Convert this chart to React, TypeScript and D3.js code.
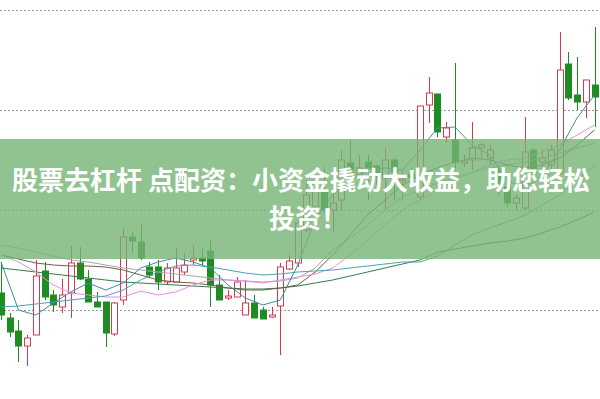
import React, { useEffect, useRef } from "react";
import * as d3 from "d3";

const W = 600;
const H = 399;

// Candles (price units)
const opens = [1.17,0.92,0.79,0.64,0.75,1.39,1.15,1.03,1.17,1.47,1.31,1.08,1.08,0.76,1.10,1.73,1.68,1.43,1.43,1.28,1.28,1.38,1.50,1.52,1.59,1.25,1.12,1.13,0.95,1.07,1.00,0.93,1.04,1.41,1.47,1.80,2.03,2.20,2.00,2.10,2.47,2.35,2.48,2.44,2.32,2.50,2.29,2.36,2.13,3.05,3.16,2.73,2.70,2.47,2.50,2.62,2.52,2.40,2.23,2.07,2.02,2.60,2.48,2.45,2.37,3.46,3.15,3.08,3.25];
const closes = [0.95,0.78,0.64,0.72,1.34,1.13,1.05,1.15,1.47,1.31,1.08,1.03,0.77,1.07,1.73,1.69,1.52,1.35,1.28,1.42,1.42,1.45,1.52,1.49,1.25,1.10,1.14,1.28,1.07,0.92,0.91,0.95,1.43,1.49,1.87,2.15,2.27,2.00,2.07,2.50,2.37,2.42,2.42,2.34,2.50,2.38,2.31,2.32,3.04,3.17,2.78,2.82,2.48,2.49,2.62,2.65,2.60,2.22,2.07,2.12,2.58,2.37,2.52,2.60,3.40,3.12,3.08,3.30,3.13];
const highs = [1.48,0.97,0.90,0.75,1.50,1.48,1.20,1.31,1.64,1.63,1.40,1.18,1.08,1.08,1.82,1.78,1.85,1.48,1.50,1.47,1.62,1.57,1.65,1.63,1.70,1.35,1.20,1.33,1.30,1.15,1.03,1.03,1.47,1.55,1.90,2.30,2.32,2.43,2.17,2.60,2.70,2.55,2.55,2.45,2.62,2.52,2.40,2.42,3.04,3.33,3.16,2.88,3.47,2.55,2.88,2.67,2.65,2.45,2.30,2.15,2.93,2.62,2.60,2.65,3.78,3.58,3.53,3.30,3.83];
const lows = [0.90,0.73,0.48,0.44,0.75,1.10,0.98,0.97,0.92,1.30,1.08,1.03,0.63,0.74,1.05,1.57,1.50,1.32,1.20,1.25,1.28,1.35,1.45,1.45,1.03,1.10,1.10,1.13,0.95,0.92,0.91,0.92,0.55,1.40,1.43,1.78,1.98,1.97,1.77,2.00,2.35,2.30,2.10,2.25,2.00,2.10,2.10,2.25,2.10,2.87,2.73,2.67,2.40,2.43,2.40,2.50,2.45,2.15,2.03,2.00,2.00,2.35,2.40,2.40,2.35,3.10,3.00,2.92,2.83];

// Moving-average lines sampled at these candle indices
const maIdx = [0,2,4,6,8,10,12,14,16,18,20,22,24,26,28,30,32,34,36,38,40,42,44,46,48,50,52,54,56,58,60,62,64,66,68];
const maFast = [1.48,1.00,0.95,1.07,1.18,1.27,1.20,1.27,1.42,1.48,1.52,1.48,1.42,1.25,1.12,1.05,1.10,1.45,1.90,2.15,2.30,2.40,2.42,2.40,2.60,2.82,2.83,2.65,2.55,2.30,2.20,2.35,2.60,2.92,3.15];
const maTeal = [1.03,1.04,1.06,1.08,1.10,1.12,1.14,1.20,1.30,1.38,1.44,1.45,1.43,1.40,1.37,1.35,1.36,1.38,1.39,1.40,1.42,1.44,1.46,1.48,1.48,1.54,1.65,1.75,1.82,1.88,1.95,2.05,2.15,2.30,2.45];
const maPink = [1.55,1.48,1.38,1.25,1.17,1.15,1.13,1.13,1.19,1.15,1.18,1.25,1.30,1.30,1.29,1.27,1.30,1.33,1.36,1.42,1.55,1.70,1.85,2.00,2.10,2.20,2.30,2.38,2.45,2.50,2.52,2.58,2.65,2.75,2.85];
const maGray = [1.65,1.62,1.58,1.54,1.50,1.48,1.45,1.42,1.40,1.38,1.36,1.34,1.32,1.30,1.29,1.28,1.29,1.32,1.42,1.60,1.72,1.85,2.00,2.13,2.20,2.27,2.32,2.38,2.42,2.45,2.48,2.52,2.57,2.62,2.67];
const maOlive = [1.55,1.51,1.47,1.45,1.44,1.44,1.43,1.40,1.35,1.30,1.28,1.27,1.25,1.22,1.20,1.20,1.22,1.25,1.38,1.55,1.75,1.95,2.10,2.25,2.35,2.42,2.48,2.52,2.50,2.45,2.42,2.45,2.52,2.65,2.80];
const maGreen = [1.42,1.40,1.38,1.36,1.34,1.32,1.30,1.28,1.27,1.26,1.25,1.24,1.23,1.22,1.21,1.21,1.22,1.24,1.27,1.30,1.34,1.38,1.42,1.46,1.50,1.58,1.61,1.64,1.67,1.69,1.72,1.77,1.83,1.90,1.98];

const gridPrices = [1, 2, 3, 4];
const bannerLine1 = "股票去杠杆 点配资：小资金撬动大收益，助您轻松";
const bannerLine2 = "投资！";

const lineSeries = [
  { vals: maGreen, color: "#2f7d4c" },
  { vals: maGray, color: "#a9a9a9" },
  { vals: maOlive, color: "#6d5f45" },
  { vals: maPink, color: "#e58fe3" },
  { vals: maTeal, color: "#4f9fb6" },
  { vals: maFast, color: "#3e8f9c" },
];

export default function App() {
  const ref = useRef<SVGSVGElement | null>(null);

  useEffect(() => {
    const svg = d3.select(ref.current);
    svg.selectAll("*").remove();

    const x = d3.scaleLinear().domain([0, 68]).range([1, 594.5]);
    const y = d3.scaleLinear().domain([0, 4]).range([410, 10]);

    svg.append("rect").attr("width", W).attr("height", H).attr("fill", "#fff");

    svg
      .append("g")
      .selectAll("line")
      .data(gridPrices)
      .join("line")
      .attr("x1", 0)
      .attr("x2", W)
      .attr("y1", (d) => Math.round(y(d)) + 0.5)
      .attr("y2", (d) => Math.round(y(d)) + 0.5)
      .attr("stroke", "#9a9a9a")
      .attr("stroke-width", 1)
      .attr("stroke-dasharray", "2,2");

    const red = "#d8394f";
    const green = "#1f8c22";
    const bw = 6;
    const g = svg.append("g");
    const idx = d3.range(opens.length);
    g.selectAll("line.wick")
      .data(idx)
      .join("line")
      .attr("x1", (i) => Math.round(x(i)) + 0.5)
      .attr("x2", (i) => Math.round(x(i)) + 0.5)
      .attr("y1", (i) => y(highs[i]))
      .attr("y2", (i) => y(lows[i]))
      .attr("stroke", (i) => (closes[i] >= opens[i] ? red : green))
      .attr("stroke-width", 1);
    g.selectAll("rect.body")
      .data(idx)
      .join("rect")
      .attr("x", (i) => Math.round(x(i)) - bw / 2 + 0.5)
      .attr("y", (i) => y(Math.max(opens[i], closes[i])))
      .attr("width", bw)
      .attr("height", (i) => Math.max(1, Math.abs(y(opens[i]) - y(closes[i]))))
      .attr("fill", (i) => (closes[i] >= opens[i] ? "#fff" : green))
      .attr("stroke", (i) => (closes[i] >= opens[i] ? red : green))
      .attr("stroke-width", 1);

    const line = d3
      .line<number>()
      .x((_, k) => x(maIdx[k]))
      .y((d) => y(d));
    lineSeries.forEach((s) => {
      svg
        .append("path")
        .attr("d", line(s.vals) as string)
        .attr("fill", "none")
        .attr("stroke", s.color)
        .attr("stroke-width", 1);
    });

    svg
      .append("rect")
      .attr("x", 0)
      .attr("y", 139)
      .attr("width", W)
      .attr("height", 120)
      .attr("fill", "rgb(118,180,118)")
      .attr("opacity", 0.8);

    const t = svg
      .append("g")
      .attr("font-family", "'Noto Sans CJK SC', sans-serif")
      .attr("font-weight", 700)
      .attr("font-size", 26)
      .attr("fill", "#fff");
    t.append("text").attr("x", 12).attr("y", 190).text(bannerLine1);
    t.append("text").attr("x", 269).attr("y", 228).text(bannerLine2);
  }, []);

  return (
    <svg
      ref={ref}
      width={W}
      height={H}
      style={{ position: "absolute", left: 0, top: 0, display: "block" }}
    />
  );
}
